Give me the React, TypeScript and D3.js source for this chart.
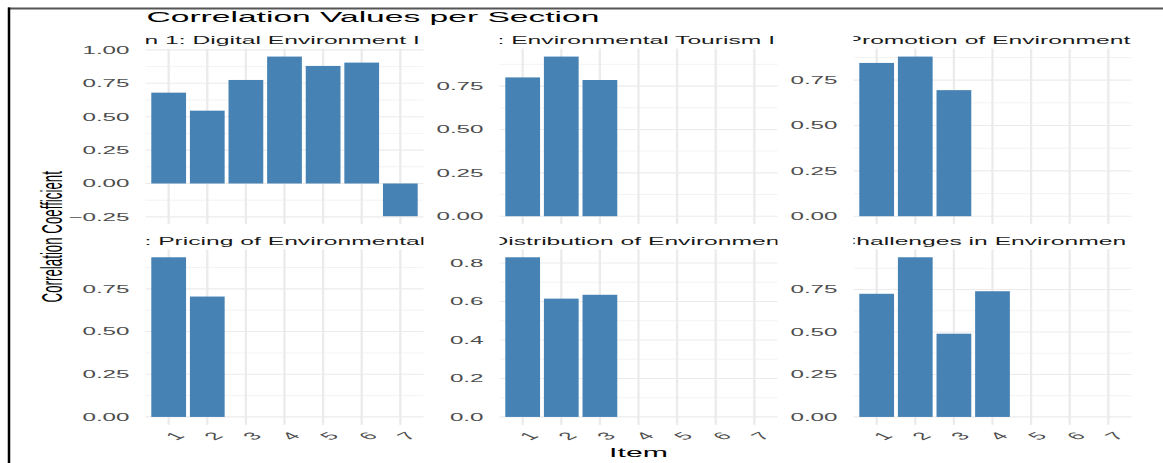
import * as d3 from "d3";

// strip titles as they show in the source (they overflow the panel and are clipped)
const sections = [
  "n 1: Digital Environment I",
  ": Environmental Tourism I",
  "Promotion of Environment",
  ": Pricing of Environmental",
  "Distribution of Environmen",
  "Challenges in Environmen",
];
// how far each clipped title starts left of its panel
const stripOverhang = [1, 2, 8, 1, 9, 15];

const items = ["1", "2", "3", "4", "5", "6", "7"];

const section1 = [0.68, 0.545, 0.775, 0.95, 0.88, 0.905, -0.245];
const section2 = [0.8, 0.92, 0.785];
const section3 = [0.845, 0.88, 0.695];
const section4 = [0.935, 0.705];
const section5 = [0.83, 0.615, 0.635];
const section6 = [0.725, 0.94, 0.49, 0.74];

const ticks1 = [-0.25, 0, 0.25, 0.5, 0.75, 1];
const ticks2 = [0, 0.25, 0.5, 0.75];
const ticks3 = [0, 0.25, 0.5, 0.75];
const ticks4 = [0, 0.25, 0.5, 0.75];
const ticks5 = [0, 0.2, 0.4, 0.6, 0.8];
const ticks6 = [0, 0.25, 0.5, 0.75];

const values = [section1, section2, section3, section4, section5, section6];
const yTicks = [ticks1, ticks2, ticks3, ticks4, ticks5, ticks6];

// the source picture is a ggplot render stretched sideways
const SX = 2.24;
const FONT = "'Liberation Sans', Arial, sans-serif";
const W = 1163;
const H = 463;

const panel = { left: 145.5, colStep: 354, width: 278, height: 175.6 };
const rowTops = [48.6, 249.3];

const BAR = "#4682B4";
const GRID = "#ebebeb";
const AXIS_TEXT = "#4d4d4d";

function stretch(x: number, y: number, rotate?: number) {
  return `translate(${x},${y}) scale(${SX},1)${rotate ? ` rotate(${rotate})` : ""}`;
}

function Panel(props: { index: number }) {
  const i = props.index;
  const data = values[i];
  const ticks = yTicks[i];
  const col = i % 3;
  const row = Math.floor(i / 3);
  const x0 = panel.left + col * panel.colStep;
  const y0 = rowTops[row];

  const x = d3
    .scaleBand<string>()
    .domain(items)
    .range([x0, x0 + panel.width])
    .paddingInner(0.1)
    .paddingOuter(0.15);

  // ggplot free y scale: data range incl. 0, 5% expansion
  const lo = Math.min(0, d3.min(data) ?? 0);
  const hi = Math.max(0, d3.max(data) ?? 1);
  const pad = (hi - lo) * 0.05;
  const y = d3
    .scaleLinear()
    .domain([lo - pad, hi + pad])
    .range([y0 + panel.height, y0]);

  const step = ticks[1] - ticks[0];
  const decimals = step < 0.25 ? 1 : 2;
  const fmt = d3.format(`.${decimals}f`);
  const minors: number[] = [];
  for (let k = -1; k < ticks.length; k++) {
    const m = ticks[0] + step * (k + 0.5);
    if (m >= lo - pad && m <= hi + pad) minors.push(m);
  }

  const clipId = `strip-clip-${i}`;

  return (
    <g>
      <defs>
        <clipPath id={clipId}>
          <rect x={x0} y={y0 - 20} width={panel.width} height={20} />
        </clipPath>
      </defs>

      {minors.map((m) => (
        <line
          key={`mi${m}`}
          x1={x0}
          x2={x0 + panel.width}
          y1={y(m)}
          y2={y(m)}
          stroke={GRID}
          strokeWidth={0.6}
        />
      ))}
      {ticks.map((t) => (
        <line
          key={`ma${t}`}
          x1={x0}
          x2={x0 + panel.width}
          y1={y(t)}
          y2={y(t)}
          stroke={GRID}
          strokeWidth={1.1}
        />
      ))}
      {items.map((it) => (
        <line
          key={`v${it}`}
          x1={(x(it) ?? 0) + x.bandwidth() / 2}
          x2={(x(it) ?? 0) + x.bandwidth() / 2}
          y1={y0}
          y2={y0 + panel.height}
          stroke={GRID}
          strokeWidth={2.3}
        />
      ))}

      {data.map((v, j) => (
        <rect
          key={`b${j}`}
          x={x(items[j])}
          width={x.bandwidth()}
          y={y(Math.max(0, v))}
          height={Math.abs(y(v) - y(0))}
          fill={BAR}
        />
      ))}

      {ticks.map((t) => (
        <text
          key={`yl${t}`}
          transform={stretch(x0 - 16, y(t))}
          dy="0.36em"
          textAnchor="end"
          fontSize={10.8}
          fontFamily={FONT}
          fill={AXIS_TEXT}
        >
          {t < 0 ? "\u2212" + fmt(-t) : fmt(t)}
        </text>
      ))}

      <g clipPath={`url(#${clipId})`}>
        <text
          transform={stretch(x0 - stripOverhang[i], y0 - 4.5)}
          fontSize={11}
          fontFamily={FONT}
          fill="#1a1a1a"
        >
          {sections[i]}
        </text>
      </g>

      {row === 1 &&
        items.map((it) => (
          <text
            key={`xl${it}`}
            transform={stretch((x(it) ?? 0) + x.bandwidth() / 2 + 6, 436, -45)}
            dy="0.35em"
            textAnchor="middle"
            fontSize={10.8}
            fontFamily={FONT}
            fill={AXIS_TEXT}
          >
            {it}
          </text>
        ))}
    </g>
  );
}

export default function App() {
  const plotLeft = panel.left;
  const plotRight = panel.left + 2 * panel.colStep + panel.width;
  const plotMidY = (rowTops[0] + rowTops[1] + panel.height) / 2;

  return (
    <svg
      width={W}
      height={H}
      style={{ position: "absolute", left: 0, top: 0, background: "#fff" }}
    >
      <rect width={W} height={H} fill="#fff" />

      {sections.map((_, i) => (
        <Panel key={i} index={i} />
      ))}

      <text
        transform={stretch(plotLeft + 1, 21.5)}
        fontSize={15}
        fontFamily={FONT}
        fill="#000"
      >
        Correlation Values per Section
      </text>

      <text
        transform={stretch((plotLeft + plotRight) / 2, 456.5)}
        textAnchor="middle"
        fontSize={13.5}
        fontFamily={FONT}
        fill="#000"
      >
        Item
      </text>

      <text
        transform={stretch(62, plotMidY, -90)}
        textAnchor="middle"
        fontSize={13.3}
        fontFamily={FONT}
        fill="#000"
      >
        Correlation Coefficient
      </text>

      {/* frame edges left over from the screenshot */}
      <line x1={8} x2={W} y1={8.5} y2={8.5} stroke="#555" strokeWidth={2} />
      <line x1={9} x2={9} y1={7.5} y2={H} stroke="#000" strokeWidth={2.5} />
    </svg>
  );
}
